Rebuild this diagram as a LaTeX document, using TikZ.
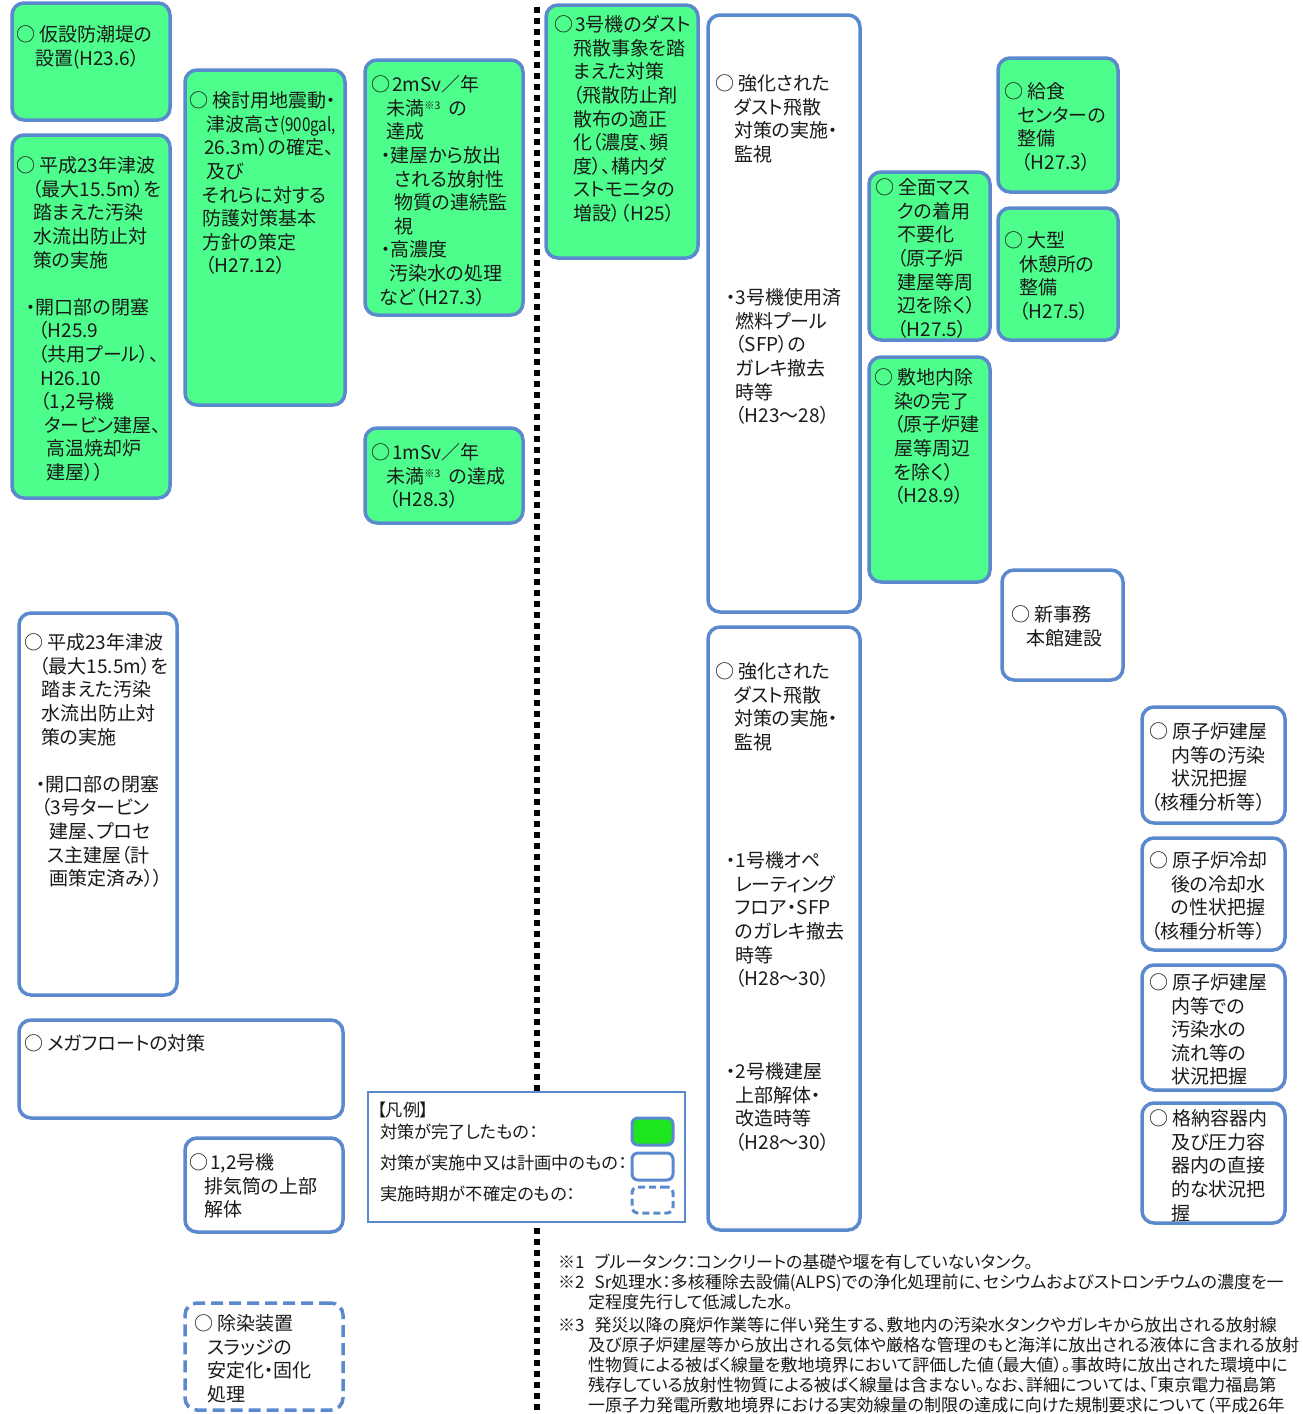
\documentclass[tikz,border=0pt]{standalone}
\usepackage{fontspec}
\usepackage{graphicx}
\setmainfont{Noto Sans CJK JP}[RawFeature={+palt}]
\usetikzlibrary{fit}
\definecolor{boxgreen}{HTML}{4DFE8C}
\definecolor{boxblue}{HTML}{5A8ACD}
\definecolor{swgreen}{HTML}{1EE61E}
\definecolor{inkc}{HTML}{1A1A1A}
\newcommand\ind[1]{\hspace*{#1pt}}
\newcommand\mr{○\hspace{4pt}}
\newcommand\supn[1]{{\fontsize{10.5}{10.5}\selectfont\raisebox{6pt}{#1}}}
\tikzset{
  box/.style={draw=boxblue, line width=3.5pt, rounded corners=12pt, inner sep=0pt, fill=white},
  done/.style={box, fill=boxgreen},
  undecided/.style={box, dash pattern=on 12pt off 6pt},
  txt/.style={anchor=north west, inner sep=0pt, align=left, text=inkc, font=\fontsize{19}{23.6}\selectfont},
  ltxt/.style={anchor=west, inner sep=0pt, text=inkc, font=\fontsize{17.2}{20}\selectfont},
  ftxt/.style={anchor=north west, inner sep=0pt, align=left, text=inkc, font=\fontsize{17}{20}\selectfont},
  swatch/.style={draw=boxblue, line width=3pt, rounded corners=6pt, inner sep=0pt, fill=white},
  divider/.style={line width=6pt, dash pattern=on 6pt off 5pt, black},
  legendbox/.style={draw=boxblue, line width=1.6pt, fill=white, inner sep=0pt}
}
\begin{document}
\begin{tikzpicture}[x=1pt,y=-1pt]
\path[use as bounding box, fill=white] (0,0) rectangle (1302,1414);

% divider
\coordinate (divtop) at (537,7);
\coordinate (divbot) at (537,1414);
\draw[divider] (divtop) -- (divbot);

% ---------- left, completed ----------
\node[done, fit={(12,3) (170,120)}] (b1) {};
\node[txt] (t1) at (16,25.5) {\mr 仮設防潮堤の\\\ind{19}設置(H23.6）};

\node[done, fit={(12,135) (170,498)}] (b2) {};
\node[txt] (t2) at (16,156.5) {\mr 平成23年津波\\
\ind{16}（最大15.5m）を\\
\ind{17}踏まえた汚染\\
\ind{17}水流出防止対\\
\ind{17}策の実施\\[23.6pt]
\ind{10}・開口部の閉塞\\
\ind{22}（H25.9\\
\ind{22}（共用プール）、\\
\ind{24}H26.10\\
\ind{24}（1,2号機\\
\ind{28}タービン建屋、\\
\ind{30}高温焼却炉\\
\ind{30}建屋））};

\node[done, fit={(185,70) (345,405)}] (b3) {};
\node[txt] (t3) at (189,91.5) {\mr 検討用地震動・\\
\ind{17}津波高さ\scalebox{0.8}[1]{(900gal,}\\
\ind{15}26.3m）の確定、\\
\ind{17}及び\\
\ind{13}それらに対する\\
\ind{13}防護対策基本\\
\ind{13}方針の策定\\
\ind{16}（H27.12）};

\node[done, fit={(365,60) (523,315)}] (b4) {};
\node[txt] (t4) at (371,75.5) {○\hspace{2pt}2mSv／年\\
\ind{15}未満\supn{※3}\ \ の\\
\ind{15}達成\\
\ind{10}・建屋から放出\\
\ind{23}される放射性\\
\ind{23}物質の連続監\\
\ind{23}視\\
\ind{10}・高濃度\\
\ind{18}汚染水の処理\\
\ind{8}など（H27.3）};

\node[done, fit={(365,428) (523,523)}] (b5) {};
\node[txt] (t5) at (371,443.5) {○\hspace{2pt}1mSv／年\\
\ind{15}未満\supn{※3}\ \ の達成\\
\ind{18}（H28.3）};

% ---------- right of divider ----------
\node[done, fit={(546,5) (698,258)}] (b6) {};
\node[txt] (t6) at (554,15.5) {○\hspace{2pt}3号機のダスト\\
\ind{19}飛散事象を踏\\
\ind{19}まえた対策\\
\ind{19}（飛散防止剤\\
\ind{19}散布の適正\\
\ind{19}化（濃度、頻\\
\ind{19}度）、構内ダ\\
\ind{19}ストモニタの\\
\ind{19}増設）（H25）};

\node[box, fit={(708,15) (860,612)}] (b7) {};
\node[txt] (t7a) at (715,74.5) {\mr 強化された\\
\ind{19}ダスト飛散\\
\ind{19}対策の実施・\\
\ind{19}監視};
\node[txt] (t7b) at (726,288.5) {・3号機使用済\\
\ind{9}燃料プール\\
\ind{9}（SFP）の\\
\ind{9}ガレキ撤去\\
\ind{9}時等\\
\ind{9}（H23～28）};

\node[done, fit={(869,172) (990,340)}] (b8) {};
\node[txt] (t8) at (875,178.5) {\mr 全面マス\\
\ind{22}クの着用\\
\ind{22}不要化\\
\ind{22}（原子炉\\
\ind{22}建屋等周\\
\ind{22}辺を除く）\\
\ind{22}（H27.5）};

\node[done, fit={(869,357) (990,582)}] (b9) {};
\node[txt] (t9) at (874,368.5) {\mr 敷地内除\\
\ind{20}染の完了\\
\ind{20}（原子炉建\\
\ind{20}屋等周辺\\
\ind{20}を除く）\\
\ind{20}（H28.9）};

\node[done, fit={(998,58) (1118,192)}] (b10) {};
\node[txt] (t10) at (1004,82.5) {\mr 給食\\
\ind{13}センターの\\
\ind{13}整備\\
\ind{17}（H27.3）};

\node[done, fit={(998,208) (1118,340)}] (b11) {};
\node[txt] (t11) at (1004,231.5) {\mr 大型\\
\ind{15}休憩所の\\
\ind{15}整備\\
\ind{15}（H27.5）};

\node[box, fit={(1002,570) (1123,680)}] (b12) {};
\node[txt] (t12) at (1011,605.5) {\mr 新事務\\
\ind{15}本館建設};

% ---------- left, in progress ----------
\node[box, fit={(19,613) (177,995)}] (b13) {};
\node[txt] (t13) at (24,633.5) {\mr 平成23年津波\\
\ind{15}（最大15.5m）を\\
\ind{17}踏まえた汚染\\
\ind{17}水流出防止対\\
\ind{17}策の実施\\[23.6pt]
\ind{12}・開口部の閉塞\\
\ind{17}（3号タービン\\
\ind{25}建屋、プロセ\\
\ind{23}ス主建屋（計\\
\ind{25}画策定済み））};

\node[box, fit={(19,1020) (343,1118)}] (b14) {};
\node[txt] (t14) at (24,1034.5) {\mr メガフロートの対策};

\node[box, fit={(185,1138) (343,1232)}] (b15) {};
\node[txt] (t15) at (189,1153.5) {○\hspace{2pt}1,2号機\\
\ind{15}排気筒の上部\\
\ind{15}解体};

\node[undecided, fit={(185,1303) (343,1410)}] (b16) {};
\node[txt] (t16) at (194,1314.5) {\mr 除染装置\\
\ind{13}スラッジの\\
\ind{13}安定化・固化\\
\ind{13}処理};

% ---------- legend ----------
\node[legendbox, fit={(368,1092) (685,1222)}] (lg) {};
\node[ltxt] (lg0) at (377,1110) {【凡例】};
\node[ltxt] (lg1) at (380,1132) {対策が完了したもの：};
\node[ltxt] (lg2) at (380,1163) {対策が実施中又は計画中のもの：};
\node[ltxt] (lg3) at (380,1194) {実施時期が不確定のもの：};
\node[swatch, fill=swgreen, fit={(632,1118) (673,1145)}] (sw1) {};
\node[swatch, fit={(632,1153) (673,1180)}] (sw2) {};
\node[swatch, dash pattern=on 7pt off 4pt, fit={(632,1187) (673,1213)}] (sw3) {};

% ---------- right column, in progress ----------
\node[box, fit={(708,627) (860,1230)}] (b17) {};
\node[txt] (t17a) at (715,662.5) {\mr 強化された\\
\ind{19}ダスト飛散\\
\ind{19}対策の実施・\\
\ind{19}監視};
\node[txt] (t17b) at (726,851.5) {・1号機オペ\\
\ind{9}レーティング\\
\ind{9}フロア・SFP\\
\ind{9}のガレキ撤去\\
\ind{9}時等\\
\ind{9}（H28～30）};
\node[txt] (t17c) at (726,1062.5) {・2号機建屋\\
\ind{9}上部解体・\\
\ind{9}改造時等\\
\ind{9}（H28～30）};

\node[box, fit={(1142,707) (1285,823)}] (b18) {};
\node[txt] (t18) at (1149,722.5) {\mr 原子炉建屋\\
\ind{22}内等の汚染\\
\ind{22}状況把握\\
\ind{2}（核種分析等）};

\node[box, fit={(1142,838) (1285,950)}] (b19) {};
\node[txt] (t19) at (1149,851.5) {\mr 原子炉冷却\\
\ind{22}後の冷却水\\
\ind{22}の性状把握\\
\ind{2}（核種分析等）};

\node[box, fit={(1142,965) (1285,1090)}] (b20) {};
\node[txt] (t20) at (1149,973.5) {\mr 原子炉建屋\\
\ind{22}内等での\\
\ind{22}汚染水の\\
\ind{22}流れ等の\\
\ind{22}状況把握};

\node[box, fit={(1142,1103) (1285,1223)}] (b21) {};
\node[txt] (t21) at (1149,1109.5) {\mr 格納容器内\\
\ind{22}及び圧力容\\
\ind{22}器内の直接\\
\ind{22}的な状況把\\
\ind{22}握};

% ---------- footnotes ----------
\node[ftxt] (fn1) at (558,1253.5) {※1\hspace{10pt}ブルータンク：コンクリートの基礎や堰を有していないタンク。};
\node[ftxt] (fn2) at (558,1273.5) {※2\hspace{10pt}Sr処理水：多核種除去設備(ALPS)での浄化処理前に、セシウムおよびストロンチウムの濃度を一\\
\ind{30}定程度先行して低減した水。};
\node[ftxt] (fn3) at (558,1316.5) {※3\hspace{10pt}発災以降の廃炉作業等に伴い発生する、敷地内の汚染水タンクやガレキから放出される放射線\\
\ind{30}及び原子炉建屋等から放出される気体や厳格な管理のもと海洋に放出される液体に含まれる放射\\
\ind{30}性物質による被ばく線量を敷地境界において評価した値（最大値）。事故時に放出された環境中に\\
\ind{30}残存している放射性物質による被ばく線量は含まない。なお、詳細については、「東京電力福島第\\
\ind{30}一原子力発電所敷地境界における実効線量の制限の達成に向けた規制要求について（平成26年};
\end{tikzpicture}
\end{document}
